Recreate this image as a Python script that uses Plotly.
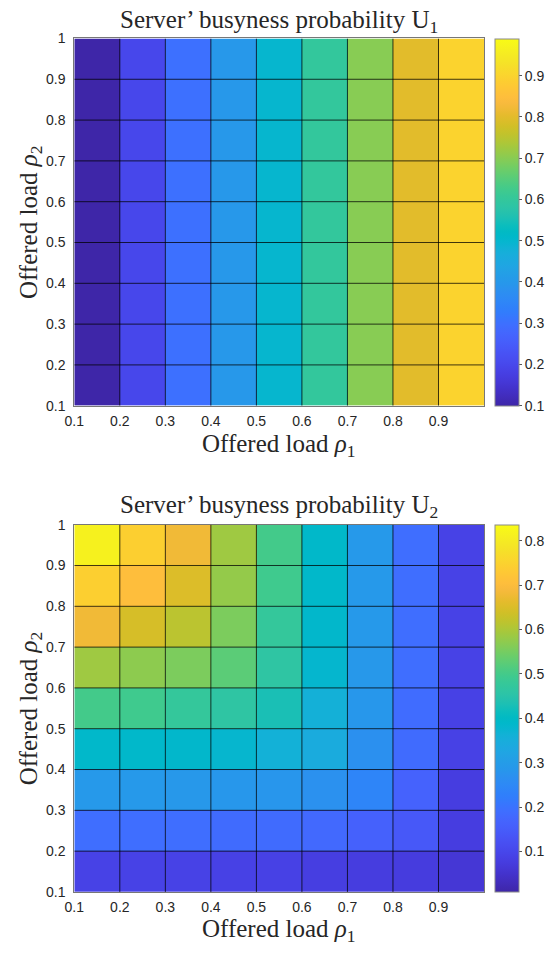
import plotly.graph_objects as go

# Grid vertices of the offered loads (pcolor-style: each cell takes the value
# at its lower-left vertex, the last row/column only set the colour range)
rho1 = [0.1, 0.2, 0.3, 0.4, 0.5, 0.6, 0.7, 0.8, 0.9, 1.0]
rho2 = [0.1, 0.2, 0.3, 0.4, 0.5, 0.6, 0.7, 0.8, 0.9, 1.0]

# U1[i][j]: rho2 = rho2[i], rho1 = rho1[j]
U1 = [
    [0.100, 0.200, 0.300, 0.400, 0.500, 0.600, 0.700, 0.800, 0.900, 0.990],
    [0.100, 0.200, 0.300, 0.400, 0.500, 0.600, 0.700, 0.800, 0.900, 0.990],
    [0.100, 0.200, 0.300, 0.400, 0.500, 0.600, 0.700, 0.800, 0.900, 0.990],
    [0.100, 0.200, 0.300, 0.400, 0.500, 0.600, 0.700, 0.800, 0.900, 0.990],
    [0.100, 0.200, 0.300, 0.400, 0.500, 0.600, 0.700, 0.800, 0.900, 0.990],
    [0.100, 0.200, 0.300, 0.400, 0.500, 0.600, 0.700, 0.800, 0.900, 0.990],
    [0.100, 0.200, 0.300, 0.400, 0.500, 0.600, 0.700, 0.800, 0.900, 0.990],
    [0.100, 0.200, 0.300, 0.400, 0.500, 0.600, 0.700, 0.800, 0.900, 0.990],
    [0.100, 0.200, 0.300, 0.400, 0.500, 0.600, 0.700, 0.800, 0.900, 0.990],
    [0.100, 0.200, 0.300, 0.400, 0.500, 0.600, 0.700, 0.800, 0.900, 0.990],
]

# U2[i][j]: rho2 = rho2[i], rho1 = rho1[j]
U2 = [
    [0.090, 0.090, 0.090, 0.088, 0.088, 0.080, 0.076, 0.075, 0.062, 0.009],
    [0.190, 0.190, 0.190, 0.185, 0.185, 0.180, 0.162, 0.140, 0.078, 0.009],
    [0.290, 0.290, 0.287, 0.285, 0.283, 0.272, 0.240, 0.165, 0.078, 0.010],
    [0.390, 0.390, 0.387, 0.380, 0.362, 0.345, 0.270, 0.185, 0.088, 0.010],
    [0.500, 0.495, 0.475, 0.462, 0.430, 0.360, 0.285, 0.187, 0.088, 0.010],
    [0.588, 0.572, 0.556, 0.525, 0.462, 0.382, 0.287, 0.190, 0.090, 0.010],
    [0.680, 0.645, 0.615, 0.556, 0.475, 0.387, 0.290, 0.190, 0.090, 0.010],
    [0.745, 0.705, 0.652, 0.578, 0.495, 0.390, 0.290, 0.190, 0.090, 0.010],
    [0.815, 0.745, 0.680, 0.588, 0.500, 0.392, 0.290, 0.190, 0.090, 0.010],
    [0.836, 0.790, 0.720, 0.620, 0.520, 0.410, 0.300, 0.200, 0.100, 0.011],
]

U1_ticks = [0.1, 0.2, 0.3, 0.4, 0.5, 0.6, 0.7, 0.8, 0.9]
U2_ticks = [0.1, 0.2, 0.3, 0.4, 0.5, 0.6, 0.7, 0.8]
x_ticks = [0.1, 0.2, 0.3, 0.4, 0.5, 0.6, 0.7, 0.8, 0.9]
y_ticks = [0.1, 0.2, 0.3, 0.4, 0.5, 0.6, 0.7, 0.8, 0.9, 1.0]

# MATLAB parula (64 entries)
PARULA = [
    (0.2422, 0.1504, 0.6603), (0.2504, 0.1650, 0.7076), (0.2578, 0.1818, 0.7511),
    (0.2647, 0.1978, 0.7952), (0.2706, 0.2147, 0.8364), (0.2751, 0.2342, 0.8710),
    (0.2783, 0.2559, 0.8991), (0.2803, 0.2782, 0.9221), (0.2813, 0.3006, 0.9414),
    (0.2810, 0.3228, 0.9579), (0.2795, 0.3447, 0.9717), (0.2760, 0.3667, 0.9829),
    (0.2699, 0.3892, 0.9906), (0.2602, 0.4123, 0.9952), (0.2440, 0.4358, 0.9988),
    (0.2206, 0.4603, 0.9973), (0.1963, 0.4847, 0.9892), (0.1834, 0.5074, 0.9798),
    (0.1786, 0.5289, 0.9682), (0.1764, 0.5499, 0.9520), (0.1687, 0.5703, 0.9359),
    (0.1540, 0.5902, 0.9218), (0.1460, 0.6091, 0.9079), (0.1380, 0.6276, 0.8973),
    (0.1248, 0.6459, 0.8883), (0.1113, 0.6635, 0.8763), (0.0952, 0.6798, 0.8598),
    (0.0689, 0.6948, 0.8394), (0.0297, 0.7082, 0.8163), (0.0036, 0.7203, 0.7917),
    (0.0067, 0.7312, 0.7660), (0.0433, 0.7411, 0.7394), (0.0964, 0.7500, 0.7120),
    (0.1408, 0.7584, 0.6842), (0.1717, 0.7670, 0.6554), (0.1938, 0.7758, 0.6251),
    (0.2161, 0.7843, 0.5923), (0.2470, 0.7918, 0.5567), (0.2906, 0.7973, 0.5188),
    (0.3406, 0.8008, 0.4789), (0.3909, 0.8029, 0.4354), (0.4456, 0.8024, 0.3909),
    (0.5044, 0.7993, 0.3480), (0.5616, 0.7942, 0.3045), (0.6174, 0.7876, 0.2612),
    (0.6720, 0.7793, 0.2227), (0.7242, 0.7698, 0.1910), (0.7738, 0.7598, 0.1646),
    (0.8203, 0.7498, 0.1535), (0.8634, 0.7406, 0.1596), (0.9035, 0.7330, 0.1774),
    (0.9393, 0.7288, 0.2100), (0.9728, 0.7298, 0.2394), (0.9956, 0.7434, 0.2371),
    (0.9970, 0.7659, 0.2199), (0.9952, 0.7893, 0.2028), (0.9892, 0.8136, 0.1885),
    (0.9786, 0.8386, 0.1766), (0.9676, 0.8639, 0.1643), (0.9610, 0.8890, 0.1537),
    (0.9597, 0.9135, 0.1423), (0.9628, 0.9373, 0.1265), (0.9691, 0.9606, 0.1064),
    (0.9769, 0.9839, 0.0805),
]
parula_scale = [
    [i / (len(PARULA) - 1), "rgb(%d,%d,%d)" % tuple(round(255 * c) for c in rgb)]
    for i, rgb in enumerate(PARULA)
]

W, H = 545, 955
SERIF = "Liberation Serif"
SANS = "Liberation Sans, Arial, sans-serif"
TXT = "#262626"
TICK_SIZE = 14
LABEL_SIZE = 25

# Panel geometry in pixels
panels = [
    dict(z=U1, ticks=U1_ticks, top=31.0, bottom=404.5, title_y=14.0,
         xlabel_y=445.0, sub="1", xa="x", ya="y"),
    dict(z=U2, ticks=U2_ticks, top=525.5, bottom=899.0, title_y=507.0,
         xlabel_y=938.0, sub="2", xa="x2", ya="y2"),
]
x_left, x_right = 66.0, 486.5
cb_left, cb_width = 497.5, 23.5
ylabel_x = 20.5

fig = go.Figure()
shapes = []
annotations = []
layout_axes = {}

for k, p in enumerate(panels):
    z_all = [v for row in p["z"] for v in row]
    cells = [row[:-1] for row in p["z"][:-1]]
    y0 = 1 - p["bottom"] / H
    y1 = 1 - p["top"] / H
    fig.add_trace(go.Heatmap(
        x=rho1, y=rho2, z=cells,
        zmin=min(z_all), zmax=max(z_all),
        colorscale=parula_scale,
        xaxis=p["xa"], yaxis=p["ya"],
        hoverinfo="skip",
        colorbar=dict(
            x=cb_left / W, xanchor="left", xref="paper",
            y=(y0 + y1) / 2, yanchor="middle", yref="paper",
            len=y1 - y0, lenmode="fraction",
            thickness=cb_width, thicknessmode="pixels",
            xpad=0, ypad=0,
            outlinewidth=1, outlinecolor="#8a8a8a",
            ticks="outside", ticklen=3, tickcolor="#555555",
            tickvals=p["ticks"], ticktext=["%g" % t for t in p["ticks"]],
            tickfont=dict(family=SANS, size=TICK_SIZE, color=TXT),
        ),
    ))

    xname = "xaxis" if k == 0 else "xaxis2"
    yname = "yaxis" if k == 0 else "yaxis2"
    layout_axes[xname] = dict(
        domain=[x_left / W, x_right / W], range=[rho1[0], rho1[-1]],
        anchor=p["ya"], tickvals=x_ticks, ticktext=["%g" % t for t in x_ticks],
        ticks="", showgrid=False, zeroline=False,
        showline=True, mirror=True, linecolor="#777777", linewidth=1,
        tickfont=dict(family=SANS, size=TICK_SIZE, color=TXT),
        ticklabelstandoff=2,
        fixedrange=True,
    )
    layout_axes[yname] = dict(
        domain=[y0, y1], range=[rho2[0], rho2[-1]],
        anchor=p["xa"], tickvals=y_ticks, ticktext=["%g" % t for t in y_ticks],
        ticks="", showgrid=False, zeroline=False,
        showline=True, mirror=True, linecolor="#777777", linewidth=1,
        tickfont=dict(family=SANS, size=TICK_SIZE, color=TXT),
        ticklabelstandoff=5,
        fixedrange=True,
    )

    # Cell edges drawn over the colour patches
    for xv in rho1[1:-1]:
        shapes.append(dict(type="line", xref=p["xa"], yref=p["ya"],
                           x0=xv, x1=xv, y0=rho2[0], y1=rho2[-1],
                           line=dict(color="rgba(0,0,0,0.75)", width=1),
                           layer="above"))
    for yv in rho2[1:-1]:
        shapes.append(dict(type="line", xref=p["xa"], yref=p["ya"],
                           x0=rho1[0], x1=rho1[-1], y0=yv, y1=yv,
                           line=dict(color="rgba(0,0,0,0.75)", width=1),
                           layer="above"))

    cx = (x_left + x_right) / 2
    annotations.append(dict(
        text="Server’ busyness probability U<sub>%s</sub>" % p["sub"],
        x=cx / W, y=1 - p["title_y"] / H, xref="paper", yref="paper",
        xanchor="center", yanchor="middle", showarrow=False,
        font=dict(family=SERIF, size=LABEL_SIZE, color=TXT),
    ))
    annotations.append(dict(
        text="Offered load <i>ρ</i><sub>1</sub>",
        x=cx / W, y=1 - p["xlabel_y"] / H, xref="paper", yref="paper",
        xanchor="center", yanchor="middle", showarrow=False,
        font=dict(family=SERIF, size=LABEL_SIZE, color=TXT),
    ))
    annotations.append(dict(
        text="Offered load <i>ρ</i><sub>2</sub>",
        x=ylabel_x / W, y=1 - ((p["top"] + p["bottom"]) / 2) / H,
        xref="paper", yref="paper",
        xanchor="center", yanchor="middle", showarrow=False, textangle=-90,
        font=dict(family=SERIF, size=LABEL_SIZE, color=TXT),
    ))

fig.update_layout(
    width=W, height=H,
    margin=dict(l=0, r=0, t=0, b=0),
    paper_bgcolor="white", plot_bgcolor="white",
    showlegend=False,
    shapes=shapes,
    annotations=annotations,
    **layout_axes,
)

fig.write_html("out.html", config=dict(displayModeBar=False))
